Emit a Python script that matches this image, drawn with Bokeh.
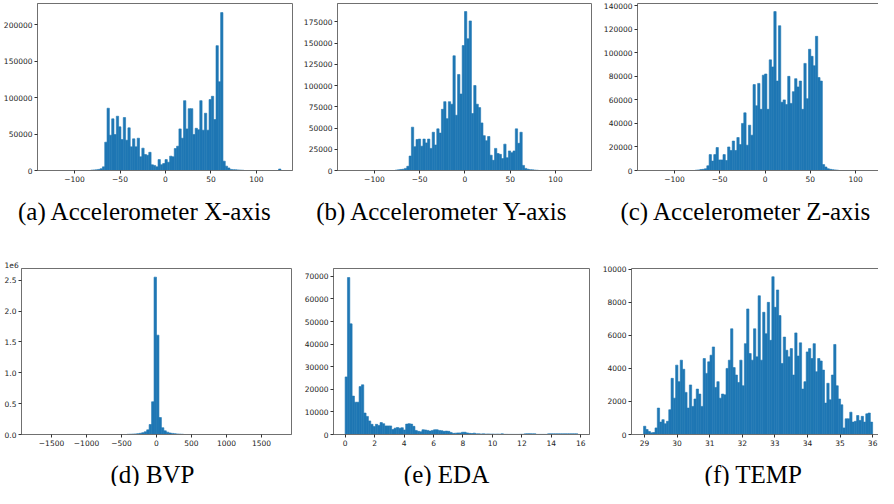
import numpy as np
from bokeh.plotting import figure
from bokeh.layouts import column, row
from bokeh.models import Range1d, FixedTicker, BasicTickFormatter, LinearAxis
from bokeh.core.properties import value
from bokeh.embed import file_html
from bokeh.resources import INLINE

# ---------------- data (bin counts, 100 bins each) ----------------
ACC_RANGE = (-128.0, 127.0)
BVP_RANGE = (-1754.0, 1754.0)
EDA_RANGE = (0.0, 15.8)
TEMP_RANGE = (28.97, 36.0)

ACC_X_COUNTS = [0] * 18 + [
    500, 800, 1000, 1500, 2500, 5000,
    38900, 85600, 48500, 71000, 49400, 74600, 60000, 42500, 72800, 41600,
    58600, 32500, 43500, 32500, 44400, 18800, 30700, 22000, 21000, 25000,
    7800, 7000, 5000, 15000, 8000, 9600, 15000, 11400, 19700, 18800,
    30200, 33400, 57200, 44400, 96000, 57200, 85000, 85000, 49400, 58000,
    56000, 96000, 55400, 78700, 55400, 97500, 102000, 70000, 171600, 122000,
    217000, 12800, 6000, 3500, 1500, 1200, 1000, 800, 600, 400,
] + [0] * 15 + [2000]

ACC_Y_COUNTS = [0] * 20 + [
    500, 800, 1200, 1500, 2500, 5000,
    17000, 51000, 28000, 36500, 37000, 28600, 37000, 32500, 37000, 26000,
    45000, 30000, 49000, 44000, 72000, 81000, 61000, 81000, 78000, 135000,
    65000, 113000, 90000, 147000, 187000, 155000, 176000, 67000, 100000, 78000,
    74000, 56000, 41000, 35000, 40000, 18000, 12000, 26000, 20000, 19000,
    14000, 31000, 15000, 23000, 21000, 23000, 49000, 32000, 45000,
    6000, 2500, 1500, 1000, 800, 500, 300,
] + [0] * 18

ACC_Z_COUNTS = [0] * 20 + [
    300, 500, 800, 1000, 1500,
    4000, 13500, 8000, 13500, 19500, 9000, 9000, 13500, 8500, 20000,
    17000, 25000, 17000, 28000, 22000, 40000, 49000, 21500, 38500, 30000,
    73000, 55000, 74000, 52000, 81000, 82000, 52000, 94000, 88000, 135000,
    76000, 123000, 58000, 60000, 56000, 80000, 57000, 67000, 78000, 71000,
    76000, 52000, 91000, 61000, 103000, 97000, 89000, 114000, 79000, 76000,
    5000, 3000, 1500, 1000, 700, 500, 300,
] + [0] * 18

BVP_COUNTS = [0] * 38 + [
    3000, 5000, 7000, 10000, 14000, 20000, 30000, 45000, 75000, 162000,
    530000, 2550000, 1610000, 275000, 110000, 60000, 38000, 25000, 18000, 13000,
    9000, 6000, 4000,
] + [0] * 39

EDA_COUNTS = [
    25500, 69500, 49000, 17000, 14300, 14300, 21200, 22000, 9500, 8000,
    6000, 4500, 3500, 4500, 4000, 5300, 4800, 3800, 3800, 3800,
    2200, 2800, 3100, 2800, 3000, 2000, 4600, 4800, 4600, 3600,
    1800, 1400, 1200, 2100, 2000, 1800, 1500, 1800, 2100, 2100,
    1800, 1700, 1400, 1500, 1400, 900, 500, 600, 700, 700,
    1000, 1000, 700, 500, 400, 600, 300, 300, 250, 300,
    200, 250, 200, 200, 150, 200, 150, 300, 80, 80,
    60, 60, 50, 50, 50, 100, 100, 300, 350, 350,
    300, 300, 50, 50, 50, 50, 50, 300, 300, 300,
    300, 300, 300, 300, 300, 300, 300, 300, 300, 300,
]

TEMP_COUNTS = [
    500, 300, 180, 100, 120, 400, 1600, 750, 900, 650,
    800, 1500, 3400, 2200, 4200, 3200, 4500, 3950, 2550, 1600,
    3000, 1700, 2150, 2750, 2450, 1700, 4600, 3700, 4400, 4800,
    5300, 2850, 3200, 2200, 2450, 2400, 4000, 4500, 6400, 4050,
    3600, 3150, 4500, 2950, 5500, 7600, 4900, 4500, 6400, 4700,
    8400, 4500, 7400, 6100, 8000, 5700, 9550, 7700, 8750, 7200,
    4300, 5900, 5100, 4700, 5200, 3600, 6150, 4750, 5550, 2750,
    3200, 5000, 5200, 4600, 5500, 3800, 4600, 4450, 3900, 1900,
    3100, 2100, 3600, 5450, 2950, 2150, 1800, 400, 950, 950,
    1350, 750, 800, 1150, 850, 1100, 750, 1250, 1300, 750,
]

CAPTIONS = ["(a) Accelerometer X-axis", "(b) Accelerometer Y-axis", "(c) Accelerometer Z-axis",
            "(d) BVP", "(e) EDA", "(f) TEMP"]

ACC_XTICKS = [-100, -50, 0, 50, 100]
ACC_XLABELS = ["\u2212100", "\u221250", "0", "50", "100"]
BVP_XTICKS = [-1500, -1000, -500, 0, 500, 1000, 1500]
BVP_XLABELS = ["\u22121500", "\u22121000", "\u2212500", "0", "500", "1000", "1500"]
EDA_XTICKS = [0, 2, 4, 6, 8, 10, 12, 14, 16]
TEMP_XTICKS = [29, 30, 31, 32, 33, 34, 35, 36]

ACC_X_YTICKS = [0, 50000, 100000, 150000, 200000]
ACC_Y_YTICKS = [0, 25000, 50000, 75000, 100000, 125000, 150000, 175000]
ACC_Z_YTICKS = [0, 20000, 40000, 60000, 80000, 100000, 120000, 140000]
BVP_YTICKS = [0, 500000, 1000000, 1500000, 2000000, 2500000]
BVP_YLABELS = ["0.0", "0.5", "1.0", "1.5", "2.0", "2.5"]
BVP_SCALE_TEXT = "1e6"
EDA_YTICKS = [0, 10000, 20000, 30000, 40000, 50000, 60000, 70000]
TEMP_YTICKS = [0, 2000, 4000, 6000, 8000, 10000]

# ---------------- styling ----------------
BAR_COLOR = "#1f77b4"
SPINE = "#707070"
TICK_FONT = "DejaVu Sans"
TICK_SIZE = "7.5px"
CAP_FONT = "Liberation Serif"
CAP_SIZE = "25px"


def panel(counts, data_range, xr, yr, xticks, yticks, geom,
          full_box=True, xlabels=None, ylabels=None):
    width, height, bl, br, bt, bb = geom
    p = figure(width=width, height=height, x_range=Range1d(*xr), y_range=Range1d(*yr),
               output_backend="svg", toolbar_location=None,
               min_border_left=bl, min_border_right=br, min_border_top=bt, min_border_bottom=bb)
    edges = np.linspace(data_range[0], data_range[1], len(counts) + 1)
    p.quad(left=edges[:-1], right=edges[1:], bottom=0, top=counts,
           fill_color=BAR_COLOR, line_color=BAR_COLOR, line_width=0.6)
    p.xgrid.visible = False
    p.ygrid.visible = False
    p.background_fill_color = "white"
    p.border_fill_color = "white"
    for ax in (p.xaxis[0], p.yaxis[0]):
        ax.axis_line_color = SPINE
        ax.axis_line_width = 1
        ax.major_tick_line_color = "#333333"
        ax.major_tick_in = 0
        ax.major_tick_out = 3
        ax.minor_tick_line_color = None
        ax.major_label_text_font = TICK_FONT
        ax.major_label_text_font_size = TICK_SIZE
        ax.major_label_text_color = "#222222"
        ax.major_label_standoff = 2
    p.xaxis[0].ticker = FixedTicker(ticks=xticks)
    p.yaxis[0].ticker = FixedTicker(ticks=yticks)
    p.xaxis[0].formatter = BasicTickFormatter(use_scientific=False)
    p.yaxis[0].formatter = BasicTickFormatter(use_scientific=False)
    if xlabels is not None:
        p.xaxis[0].major_label_overrides = {t: l for t, l in zip(xticks, xlabels)}
    if ylabels is not None:
        p.yaxis[0].major_label_overrides = {t: l for t, l in zip(yticks, ylabels)}
    if full_box:
        p.outline_line_color = SPINE
        p.outline_line_width = 1
        p.outline_line_alpha = 1
    else:
        p.outline_line_color = None
        top = LinearAxis(ticker=FixedTicker(ticks=[]), major_tick_in=0, major_tick_out=0,
                         minor_tick_in=0, minor_tick_out=0, major_label_text_font_size="0px",
                         major_label_standoff=0, axis_line_color=SPINE, axis_line_width=1)
        p.add_layout(top, "above")
    return p


def caption(width, height, text, cx, base):
    p = figure(width=width, height=height, x_range=Range1d(0, width), y_range=Range1d(0, height),
               output_backend="svg", toolbar_location=None, x_axis_type=None, y_axis_type=None,
               title=None,
               min_border_left=0, min_border_right=0, min_border_top=0, min_border_bottom=0)
    p.grid.visible = False
    p.outline_line_color = None
    p.text(x=[cx], y=[base], text=[text], text_font=value(CAP_FONT),
           text_font_size=value(CAP_SIZE), text_align="center",
           text_baseline="alphabetic", text_color="black")
    return p


pa = panel(ACC_X_COUNTS, ACC_RANGE, (-140.75, 139.75), (0, 229500), ACC_XTICKS, ACC_X_YTICKS,
           (297, 190, 37, 5, 3, 20), xlabels=ACC_XLABELS)
pb = panel(ACC_Y_COUNTS, ACC_RANGE, (-140.75, 139.75), (0, 196500), ACC_XTICKS, ACC_Y_YTICKS,
           (296, 190, 40, 2, 3, 20), xlabels=ACC_XLABELS)
pc = panel(ACC_Z_COUNTS, ACC_RANGE, (-140.75, 125.2), (0, 141900), ACC_XTICKS, ACC_Z_YTICKS,
           (285, 190, 44, 0, 3, 20), full_box=False, xlabels=ACC_XLABELS)

pd_ = panel(BVP_COUNTS, BVP_RANGE, (-1929, 1929), (0, 2690000), BVP_XTICKS, BVP_YTICKS,
            (297, 210, 24, 6, 22, 14), xlabels=BVP_XLABELS, ylabels=BVP_YLABELS)
pd_.min_border_left = 21
pd_.title.text = BVP_SCALE_TEXT
pd_.title.align = "left"
pd_.title.offset = -17
pd_.title.standoff = 1
pd_.title.text_font = TICK_FONT
pd_.title.text_font_size = TICK_SIZE
pd_.title.text_font_style = "normal"
pd_.title.text_color = "#222222"
pd_.title.vertical_align = "bottom"
pe = panel(EDA_COUNTS, EDA_RANGE, (-0.79, 16.59), (0, 73500), EDA_XTICKS, EDA_YTICKS,
           (296, 210, 36, 4, 30, 14))
pf = panel(TEMP_COUNTS, TEMP_RANGE, (28.60, 36.18), (0, 10050), TEMP_XTICKS, TEMP_YTICKS,
           (285, 210, 38, 0, 30, 14), full_box=False)

ca = caption(297, 48, CAPTIONS[0], 144.5, 27)
cb = caption(296, 48, CAPTIONS[1], 145, 27)
cc = caption(285, 48, CAPTIONS[2], 152.5, 27)
cd = caption(297, 38, CAPTIONS[3], 152, 12)
ce = caption(296, 38, CAPTIONS[4], 149, 12)
cf = caption(285, 38, CAPTIONS[5], 160, 12)

layout = column(row(pa, pb, pc), row(ca, cb, cc), row(pd_, pe, pf), row(cd, ce, cf))
open("out.html", "w").write(file_html(layout, INLINE))
